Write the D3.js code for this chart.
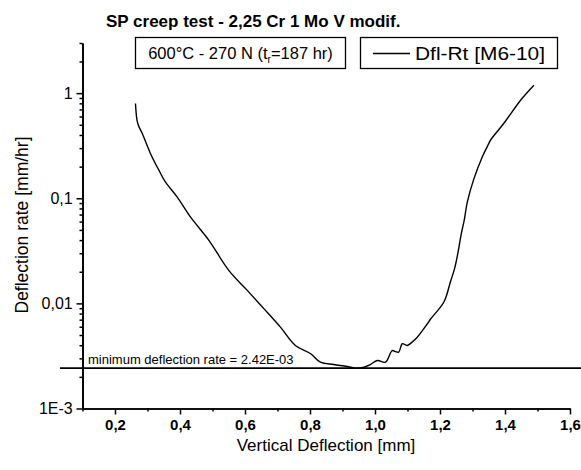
<!DOCTYPE html>
<html>
<head>
<meta charset="utf-8">
<script src="https://cdn.jsdelivr.net/npm/d3@7"></script>
<style>
  html, body { margin: 0; padding: 0; background: #fff; }
  svg { display: block; font-family: "Liberation Sans", Arial, Helvetica, sans-serif; }
</style>
</head>
<body>
<svg id="chart" width="581" height="470"></svg>
<script>
// ---- data ----
const deflection = [0.263, 0.270, 0.284, 0.309, 0.335, 0.355, 0.391, 0.432, 0.489, 0.550, 0.607, 0.658, 0.709, 0.755, 0.802, 0.832, 0.873, 0.914, 0.940, 0.966, 0.986, 1.007, 1.032, 1.053, 1.063, 1.073, 1.084, 1.099, 1.114, 1.130, 1.161, 1.171, 1.212, 1.232, 1.245, 1.255, 1.265, 1.275, 1.284, 1.304, 1.330, 1.345, 1.355, 1.396, 1.448, 1.489];
const rate = [0.798, 0.514, 0.413, 0.267, 0.185, 0.143, 0.103, 0.0664, 0.0398, 0.0206, 0.0133, 0.00891, 0.00594, 0.00398, 0.00332, 0.00276, 0.00262, 0.00251, 0.00242, 0.00247, 0.00262, 0.00286, 0.00276, 0.00356, 0.00348, 0.00344, 0.00413, 0.00398, 0.00428, 0.00477, 0.0064, 0.0071, 0.0103, 0.0160, 0.0215, 0.030, 0.045, 0.063, 0.092, 0.152, 0.247, 0.308, 0.356, 0.514, 0.857, 1.19];
const minRate = 0.00242;
const xTicks = [0.2, 0.4, 0.6, 0.8, 1.0, 1.2, 1.4, 1.6];
const xTickLabels = ["0,2", "0,4", "0,6", "0,8", "1,0", "1,2", "1,4", "1,6"];
const xMinorTicks = [0.1, 0.3, 0.5, 0.7, 0.9, 1.1, 1.3, 1.5];
const yTicks = [0.001, 0.01, 0.1, 1];
const yTickLabels = ["1E-3", "0,01", "0,1", "1"];
const title = "SP creep test - 2,25 Cr 1 Mo V modif.";
const xTitle = "Vertical Deflection [mm]";
const yTitle = "Deflection rate [mm/hr]";
const seriesName = "Dfl-Rt [M6-10]";
const minLabel = "minimum deflection rate = 2.42E-03";

// ---- scales ----
const svg = d3.select("#chart");
const x = d3.scaleLinear().domain([0.1, 1.6]).range([82.5, 570]);
const y = d3.scaleLog().domain([0.001, 3]).range([408.5, 43]);

const yMinor = [];
[0.001, 0.01, 0.1, 1].forEach(d => {
  for (let k = 2; k <= 9; k++) { const v = d * k; if (v <= 3.0001) yMinor.push(v); }
});

// ---- axes ----
const xAxis = svg.append("g").attr("transform", `translate(0,${y(0.001)})`)
  .call(d3.axisBottom(x).tickValues(xTicks).tickSize(6).tickSizeOuter(0)
    .tickFormat((d, i) => xTickLabels[i]));
const xAxisMinor = svg.append("g").attr("transform", `translate(0,${y(0.001)})`)
  .call(d3.axisBottom(x).tickValues(xMinorTicks).tickSize(3).tickSizeOuter(0).tickFormat(""));
const yAxis = svg.append("g").attr("transform", `translate(${x(0.1)},0)`)
  .call(d3.axisLeft(y).tickValues(yTicks).tickSize(6).tickSizeOuter(0)
    .tickFormat((d, i) => yTickLabels[i]));
const yAxisMinor = svg.append("g").attr("transform", `translate(${x(0.1)},0)`)
  .call(d3.axisLeft(y).tickValues(yMinor).tickSize(3).tickSizeOuter(0).tickFormat(""));

[xAxis, xAxisMinor, yAxis, yAxisMinor].forEach(g => {
  g.select(".domain").attr("stroke", "#000").attr("stroke-width", 1.7);
  g.selectAll(".tick line").attr("stroke", "#000").attr("stroke-width", 1.5);
});
xAxis.selectAll(".tick text").attr("font-size", 15).attr("font-weight", "bold")
  .attr("fill", "#000").attr("dy", "0.85em");
yAxis.selectAll(".tick text").attr("font-size", 16).attr("fill", "#000").attr("dx", "-0.05em");

// ---- minimum line ----
svg.append("line")
  .attr("x1", 60).attr("x2", 581)
  .attr("y1", y(minRate)).attr("y2", y(minRate))
  .attr("stroke", "#000").attr("stroke-width", 1.7);
svg.append("text").attr("x", 88).attr("y", y(minRate) - 4)
  .attr("font-size", 13).attr("fill", "#000").text(minLabel);

// ---- curve ----
const pts = deflection.map((d, i) => [d, rate[i]]);
svg.append("path").datum(pts)
  .attr("fill", "none").attr("stroke", "#000").attr("stroke-width", 1.4)
  .attr("stroke-linejoin", "round")
  .attr("d", d3.line().x(d => x(d[0])).y(d => y(d[1])).curve(d3.curveCatmullRom.alpha(0.5)));

// ---- title ----
svg.append("text").attr("x", 106).attr("y", 27)
  .attr("font-size", 17).attr("font-weight", "bold").attr("fill", "#000").text(title);

// ---- legend boxes ----
svg.append("rect").attr("x", 135.5).attr("y", 37.5).attr("width", 210).attr("height", 31)
  .attr("fill", "#fff").attr("stroke", "#000").attr("stroke-width", 1.3);
const t1 = svg.append("text").attr("x", 240.5).attr("y", 59).attr("text-anchor", "middle")
  .attr("font-size", 16.5).attr("fill", "#000");
t1.append("tspan").text("600°C - 270 N (t");
t1.append("tspan").attr("font-size", 10).attr("dy", 4).text("r");
t1.append("tspan").attr("dy", -4).text("=187 hr)");

svg.append("rect").attr("x", 360.5).attr("y", 37.5).attr("width", 197).attr("height", 31)
  .attr("fill", "#fff").attr("stroke", "#000").attr("stroke-width", 1.3);
svg.append("line").attr("x1", 373).attr("x2", 410).attr("y1", 53.5).attr("y2", 53.5)
  .attr("stroke", "#000").attr("stroke-width", 1.4);
svg.append("text").attr("x", 415).attr("y", 59.5).attr("font-size", 18)
  .attr("textLength", 130).attr("lengthAdjust", "spacingAndGlyphs")
  .attr("fill", "#000").text(seriesName);

// ---- axis titles ----
svg.append("text").attr("x", 326).attr("y", 451).attr("text-anchor", "middle")
  .attr("font-size", 17).attr("fill", "#000").text(xTitle);
svg.append("text").attr("transform", "translate(28,225) rotate(-90)").attr("text-anchor", "middle")
  .attr("font-size", 17.5).attr("fill", "#000").text(yTitle);
</script>
</body>
</html>
